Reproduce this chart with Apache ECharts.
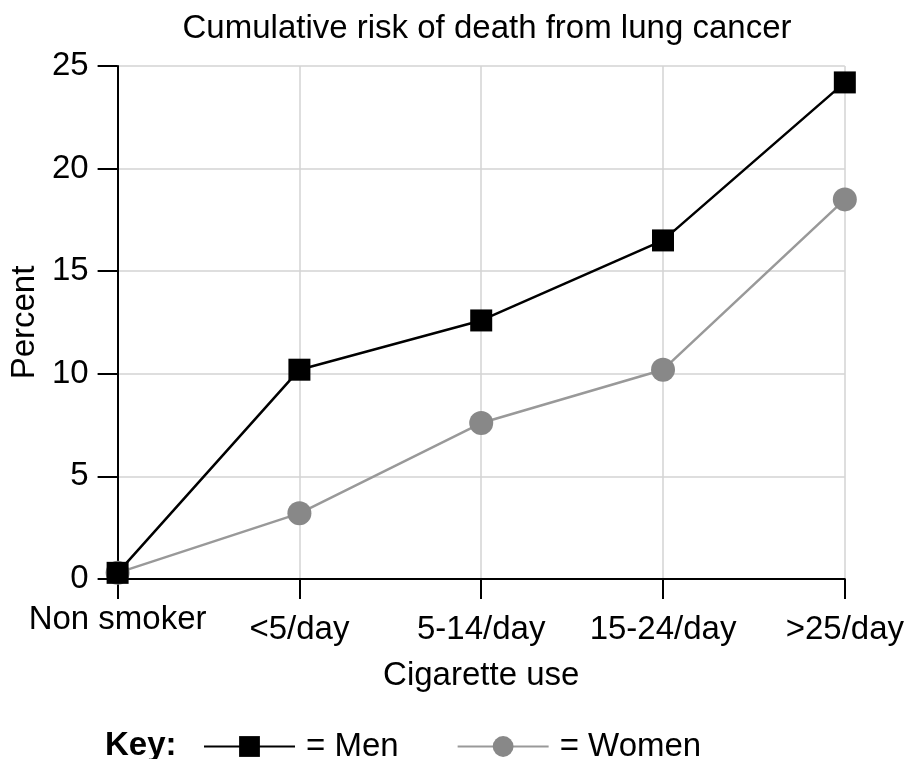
<!DOCTYPE html>
<html>
<head>
<meta charset="utf-8">
<script src="https://cdn.jsdelivr.net/npm/echarts@6/dist/echarts.min.js"></script>
<style>html,body{margin:0;padding:0;background:#fff}#c{width:907px;height:759px}</style>
</head>
<body>
<div id="c"></div>
<script>
var categories = ['Non smoker', '<5/day', '5-14/day', '15-24/day', '>25/day'];
var menValues = [0.3, 10.2, 12.6, 16.5, 24.2];
var womenValues = [0.3, 3.2, 7.6, 10.2, 18.5];
var yTicks = [0, 5, 10, 15, 20, 25];

var FONT = '"Liberation Sans", Arial, Helvetica, sans-serif';
var FS = 33;
var chart = echarts.init(document.getElementById('c'));
chart.setOption({
  animation: false,
  backgroundColor: '#fff',
  textStyle: { fontFamily: FONT },
  title: {
    text: 'Cumulative risk of death from lung cancer',
    left: 482, top: 7, textAlign: 'center',
    textStyle: { fontFamily: FONT, fontSize: FS, fontWeight: 'normal', color: '#000' }
  },
  grid: { left: 114, right: 62, top: 66, bottom: 180, containLabel: false },
  legend: {
    data: ['Men', 'Women'],
    left: 198, top: 725,
    itemWidth: 91, itemHeight: 26, itemGap: 58,
    formatter: '= {name}',
    textStyle: { fontFamily: FONT, fontSize: FS, color: '#000', padding: [0, 0, 0, 6] }
  },
  graphic: [{
    type: 'text', left: 105, top: 729,
    style: { text: 'Key:', font: 'bold ' + FS + 'px ' + FONT, fill: '#000' }
  }],
  xAxis: {
    type: 'category', data: categories, boundaryGap: false,
    name: 'Cigarette use', nameLocation: 'middle', nameGap: 80,
    nameTextStyle: { fontFamily: FONT, fontSize: FS, color: '#000' },
    axisLine: { lineStyle: { color: '#000', width: 2 } },
    axisTick: { show: true, length: 20, alignWithLabel: true, lineStyle: { color: '#000', width: 2 } },
    splitLine: { show: true, lineStyle: { color: '#d3d3d3', width: 1.5 } },
    axisLabel: {
      interval: 0, margin: 27, color: '#000', fontFamily: FONT, fontSize: FS,
      formatter: function (v, i) { return i === 0 ? '{a|' + v + '}' : '{b|' + v + '}'; },
      rich: {
        a: { fontFamily: FONT, fontSize: FS, color: '#000', lineHeight: 28 },
        b: { fontFamily: FONT, fontSize: FS, color: '#000', lineHeight: 48 }
      }
    }
  },
  yAxis: {
    type: 'value', min: yTicks[0], max: yTicks[yTicks.length - 1], interval: yTicks[1] - yTicks[0],
    name: 'Percent', nameLocation: 'middle', nameGap: 72, nameRotate: 90,
    nameTextStyle: { fontFamily: FONT, fontSize: FS, color: '#000' },
    axisLine: { show: true, lineStyle: { color: '#000', width: 2 } },
    axisTick: { show: true, length: 20, lineStyle: { color: '#000', width: 2 } },
    splitLine: { show: true, lineStyle: { color: '#d3d3d3', width: 1.5 } },
    axisLabel: { margin: 29, color: '#000', fontFamily: FONT, fontSize: FS }
  },
  series: [
    {
      name: 'Women', type: 'line', data: womenValues, z: 2,
      symbol: 'circle', symbolSize: 24,
      lineStyle: { color: '#999', width: 2.5 },
      itemStyle: { color: '#888', borderWidth: 0 }
    },
    {
      name: 'Men', type: 'line', data: menValues, z: 3,
      symbol: 'rect', symbolSize: 22,
      lineStyle: { color: '#000', width: 2.5 },
      itemStyle: { color: '#000', borderWidth: 0 }
    }
  ]
});
</script>
</body>
</html>
